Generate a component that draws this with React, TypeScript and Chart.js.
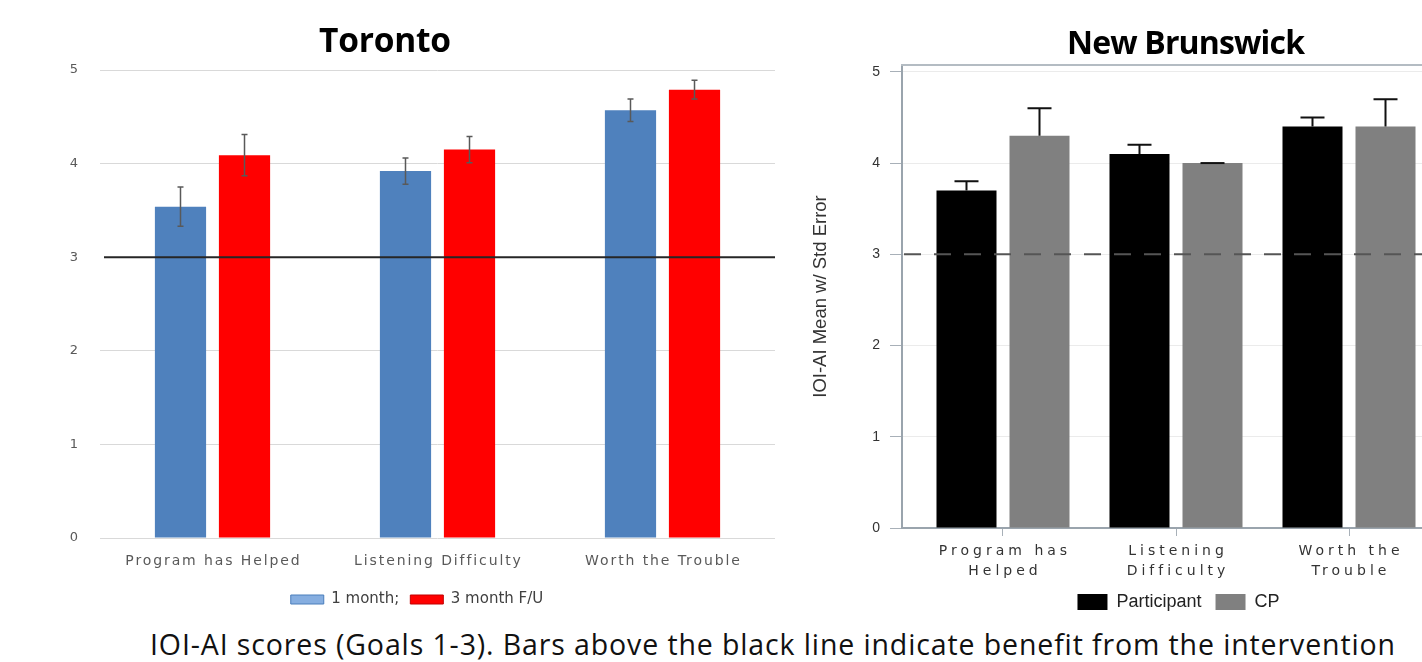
import React, { useEffect, useRef } from 'react';
import { Chart, registerables } from 'chart.js';

Chart.register(...registerables);

// ---------------- data ----------------
const torontoTitle = 'Toronto';
const torontoCategories = ['Program has Helped', 'Listening Difficulty', 'Worth the Trouble'];
const torontoSeriesNames = ['1 month;', '3 month F/U'];
const torontoOneMonth = [3.54, 3.92, 4.57];
const torontoOneMonthErr = [0.21, 0.14, 0.12];
const torontoThreeMonth = [4.09, 4.15, 4.79];
const torontoThreeMonthErr = [0.22, 0.14, 0.1];
const torontoYTicks = [0, 1, 2, 3, 4, 5];

const nbTitle = 'New Brunswick';
const nbCategories = [['Program has', 'Helped'], ['Listening', 'Difficulty'], ['Worth the', 'Trouble']];
const nbSeriesNames = ['Participant', 'CP'];
const nbParticipant = [3.7, 4.1, 4.4];
const nbParticipantErr = [0.1, 0.1, 0.1];
const nbCP = [4.3, 4.0, 4.4];
const nbCPErr = [0.3, 0, 0.3];
const nbYTicks = [0, 1, 2, 3, 4, 5];
const nbYTitle = 'IOI-AI Mean w/ Std Error';

const benefitLine = 3;
const caption = 'IOI-AI scores (Goals 1-3). Bars above the black line indicate benefit from the intervention';

// ---------------- plugins ----------------
const errorBarsPlugin = {
  id: 'errorBars',
  afterDatasetsDraw(chart: any, _a: any, opts: any) {
    const ctx = chart.ctx;
    const yScale = chart.scales.y;
    ctx.save();
    ctx.strokeStyle = opts.color;
    ctx.lineWidth = opts.width;
    chart.data.datasets.forEach((ds: any, i: number) => {
      const errs = opts.errors[i];
      if (!errs) return;
      const meta = chart.getDatasetMeta(i);
      meta.data.forEach((el: any, j: number) => {
        const raw = ds.data[j];
        const v = typeof raw === 'number' ? raw : raw.y;
        const e = errs[j];
        const x = el.x;
        const top = yScale.getPixelForValue(v + e);
        const bottom = yScale.getPixelForValue(opts.mode === 'both' ? v - e : v);
        const h = opts.cap / 2;
        ctx.beginPath();
        ctx.moveTo(x, top);
        ctx.lineTo(x, bottom);
        ctx.moveTo(x - h, top);
        ctx.lineTo(x + h, top);
        if (opts.mode === 'both') {
          ctx.moveTo(x - h, bottom);
          ctx.lineTo(x + h, bottom);
        }
        ctx.stroke();
      });
    });
    ctx.restore();
  },
};

const refLinePlugin = {
  id: 'refLine',
  afterDatasetsDraw(chart: any, _a: any, opts: any) {
    const ctx = chart.ctx;
    const area = chart.chartArea;
    const y = chart.scales.y.getPixelForValue(opts.value);
    ctx.save();
    ctx.strokeStyle = opts.color;
    ctx.lineWidth = opts.width;
    ctx.setLineDash(opts.dash || []);
    ctx.beginPath();
    ctx.moveTo(area.left + (opts.inset || 0), y);
    ctx.lineTo(area.right, y);
    ctx.stroke();
    ctx.restore();
  },
};

const topFramePlugin = {
  id: 'topFrame',
  afterDraw(chart: any, _a: any, opts: any) {
    if (!opts || !opts.color) return;
    const ctx = chart.ctx;
    const area = chart.chartArea;
    ctx.save();
    ctx.strokeStyle = opts.color;
    ctx.lineWidth = opts.width;
    ctx.beginPath();
    ctx.moveTo(area.left - 1, area.top);
    ctx.lineTo(area.right, area.top);
    ctx.stroke();
    ctx.restore();
  },
};

const spacedTicksPlugin = {
  id: 'spacedTicks',
  afterLayout(chart: any, _a: any, opts: any) {
    const sc = chart.scales.x;
    if (!sc || sc.__spaced) return;
    const orig = sc.drawLabels;
    sc.drawLabels = function (area: any) {
      const ctx = this.ctx;
      ctx.save();
      (ctx as any).letterSpacing = opts.spacing + 'px';
      ctx.translate(opts.spacing / 2, 0);
      orig.call(this, area);
      ctx.restore();
    };
    sc.__spaced = true;
  },
};

// ---------------- configs ----------------
function torontoConfig(): any {
  return {
    type: 'bar',
    data: {
      labels: torontoCategories,
      datasets: [
        { label: torontoSeriesNames[0], data: torontoOneMonth, backgroundColor: '#4f81bd', borderWidth: 0 },
        { label: torontoSeriesNames[1], data: torontoThreeMonth, backgroundColor: '#ff0000', borderWidth: 0 },
      ],
    },
    options: {
      responsive: false,
      animation: false,
      layout: { padding: { left: 59, right: 25, top: 70, bottom: 0 } },
      datasets: { bar: { categoryPercentage: 0.569, barPercentage: 0.8 } },
      scales: {
        x: {
          grid: { display: false, drawTicks: false },
          border: { display: false },
          ticks: {
            font: { family: 'DejaVu Sans', size: 14 },
            color: '#595959',
            padding: 15,
            maxRotation: 0,
            autoSkip: false,
          },
          afterFit: (s: any) => {
            s.height = 43;
          },
        },
        y: {
          min: 0,
          max: 5,
          afterBuildTicks: (s: any) => {
            s.ticks = torontoYTicks.map((v) => ({ value: v }));
          },
          grid: {
            color: (c: any) => (c.tick && c.tick.value === benefitLine ? 'rgba(0,0,0,0)' : '#d9d9d9'),
            drawTicks: false,
            lineWidth: 1,
          },
          border: { display: false },
          ticks: { font: { family: 'DejaVu Sans', size: 13 }, color: '#595959', padding: 22 },
          afterFit: (s: any) => {
            s.width = 41;
          },
        },
      },
      plugins: {
        legend: {
          position: 'bottom',
          labels: {
            boxWidth: 33,
            boxHeight: 9,
            padding: 11,
            font: { family: 'DejaVu Sans', size: 15 },
            color: '#404040',
            generateLabels: (chart: any) => {
              const items = (Chart.defaults as any).plugins.legend.labels.generateLabels(chart);
              const fills = ['#86aee0', '#ff0000'];
              const strokes = ['#4a7ebb', '#c00000'];
              items.forEach((it: any, i: number) => {
                it.fillStyle = fills[i];
                it.strokeStyle = strokes[i];
                it.lineWidth = 1;
              });
              return items;
            },
          },
        },
        tooltip: { enabled: false },
        errorBars: {
          errors: [torontoOneMonthErr, torontoThreeMonthErr],
          mode: 'both',
          color: '#595959',
          width: 1.5,
          cap: 6,
        },
        refLine: { value: benefitLine, color: '#262626', width: 2, inset: 4 },
        spacedTicks: { spacing: 1.9 },
      },
    },
    plugins: [errorBarsPlugin, refLinePlugin, spacedTicksPlugin],
  };
}

function nbConfig(): any {
  return {
    type: 'bar',
    data: {
      datasets: [
        {
          label: nbSeriesNames[0],
          data: nbParticipant.map((v, i) => ({ x: i, y: v })),
          backgroundColor: '#000000',
          borderWidth: 0,
        },
        {
          label: nbSeriesNames[1],
          data: nbCP.map((v, i) => ({ x: i, y: v })),
          backgroundColor: '#808080',
          borderWidth: 0,
        },
      ],
    },
    options: {
      responsive: false,
      animation: false,
      layout: { padding: { left: 0, right: 5, top: 65, bottom: 0 } },
      datasets: { bar: { categoryPercentage: 0.844, barPercentage: 0.822 } },
      scales: {
        x: {
          type: 'linear',
          min: -0.5838,
          max: 2.6127,
          offset: false,
          afterBuildTicks: (s: any) => {
            s.ticks = nbCategories.map((_c, i) => ({ value: i }));
          },
          ticks: {
            callback: (v: any) => nbCategories[v] ?? '',
            font: { family: 'DejaVu Sans', size: 14, lineHeight: 1.45 },
            color: '#333333',
            padding: 5,
            maxRotation: 0,
            autoSkip: false,
          },
          grid: { drawOnChartArea: false, tickLength: 8, tickColor: '#a8b0b8', offset: false },
          border: { color: '#9aa4ad', width: 2 },
          afterFit: (s: any) => {
            s.height = 51;
          },
        },
        y: {
          min: 0,
          max: 5.075,
          afterBuildTicks: (s: any) => {
            s.ticks = nbYTicks.map((v) => ({ value: v }));
          },
          ticks: { font: { family: 'Liberation Sans', size: 14 }, color: '#333333', padding: 10 },
          grid: { color: '#ebebeb', tickColor: '#a8b0b8', tickLength: 12, lineWidth: 1 },
          border: { color: '#9aa4ad', width: 2 },
          title: {
            display: true,
            text: nbYTitle,
            font: { family: 'Liberation Sans', size: 18.5 },
            color: '#333333',
            padding: { top: 10, bottom: 0 },
          },
          afterFit: (s: any) => {
            s.width = 102;
          },
        },
      },
      plugins: {
        legend: {
          position: 'bottom',
          fullSize: false,
          labels: {
            boxWidth: 30,
            boxHeight: 16,
            padding: 14,
            font: { family: 'Liberation Sans', size: 18 },
            color: '#222222',
          },
        },
        tooltip: { enabled: false },
        errorBars: {
          errors: [nbParticipantErr, nbCPErr],
          mode: 'up',
          color: '#111111',
          width: 2,
          cap: 24,
        },
        refLine: { value: benefitLine, color: '#555555', width: 2, dash: [17, 13], inset: 2 },
        topFrame: { color: '#b4bcc3', width: 2 },
        spacedTicks: { spacing: 4 },
      },
    },
    plugins: [errorBarsPlugin, refLinePlugin, topFramePlugin, spacedTicksPlugin],
  };
}

// ---------------- helpers ----------------
let measureCtx: CanvasRenderingContext2D | null = null;
function measureText(text: string, font: string): number {
  if (!measureCtx) measureCtx = document.createElement('canvas').getContext('2d');
  measureCtx!.font = font;
  return measureCtx!.measureText(text).width;
}

function FitText(props: {
  text: string;
  x: number;
  width: number;
  baseline: number;
  size: number;
  weight: number;
  color: string;
}) {
  const family = '"Open Sans"';
  const font = `${props.weight} ${props.size}px ${family}`;
  const natural = measureText(props.text, font);
  const ls = (props.width - natural) / Math.max(1, props.text.length - 1);
  const top = props.baseline - 0.888 * props.size;
  return (
    <div
      style={{
        position: 'absolute',
        left: props.x,
        top,
        fontFamily: family,
        fontWeight: props.weight,
        fontSize: props.size,
        lineHeight: `${props.size}px`,
        letterSpacing: `${ls}px`,
        color: props.color,
        whiteSpace: 'nowrap',
      }}
    >
      {props.text}
    </div>
  );
}

function ChartCanvas(props: { left: number; top: number; width: number; height: number; make: () => any }) {
  const ref = useRef<HTMLCanvasElement>(null);
  useEffect(() => {
    const chart = new Chart(ref.current as HTMLCanvasElement, props.make());
    return () => chart.destroy();
  }, []);
  return (
    <canvas
      ref={ref}
      width={props.width}
      height={props.height}
      style={{ position: 'absolute', left: props.left, top: props.top, width: props.width, height: props.height }}
    />
  );
}

export default function App() {
  return (
    <div
      style={{
        position: 'fixed',
        left: 0,
        top: 0,
        width: 1422,
        height: 662,
        overflow: 'hidden',
        background: '#ffffff',
      }}
    >
      <ChartCanvas left={0} top={0} width={800} height={617} make={torontoConfig} />
      <ChartCanvas left={800} top={0} width={660} height={621} make={nbConfig} />
      <FitText text={torontoTitle} x={319} width={132} baseline={52.5} size={33.5} weight={700} color="#000" />
      <FitText text={nbTitle} x={1067} width={238} baseline={54} size={32} weight={700} color="#000" />
      <FitText text={caption} x={150} width={1245} baseline={655} size={28.5} weight={400} color="#111" />
    </div>
  );
}
